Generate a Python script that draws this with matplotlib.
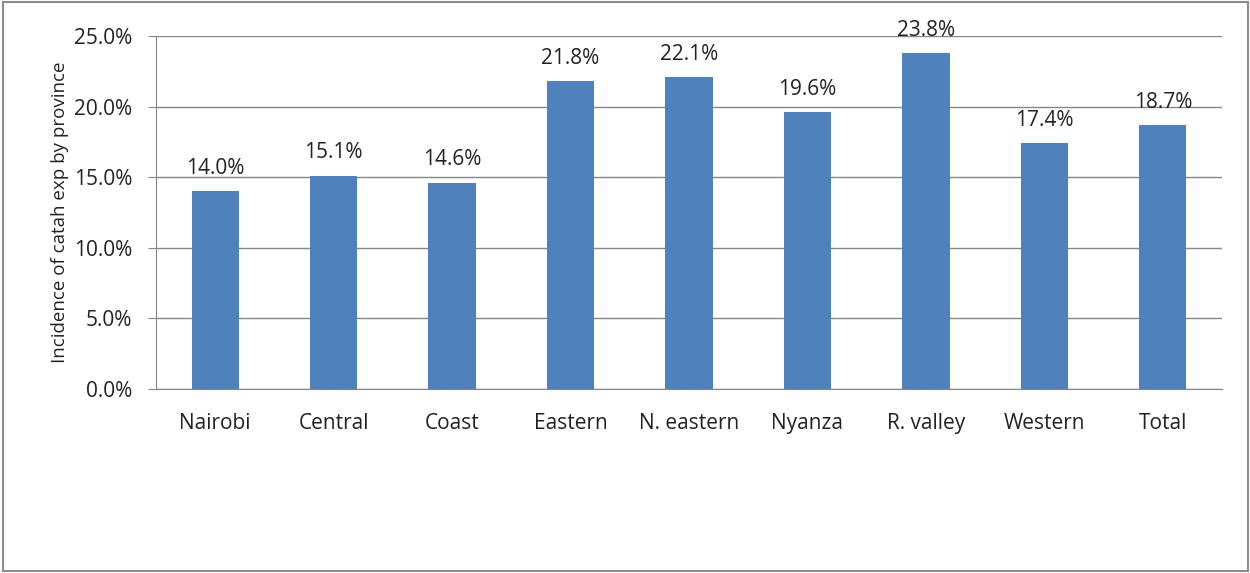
import matplotlib.pyplot as plt
from matplotlib.patches import Rectangle
from matplotlib.ticker import FuncFormatter

provinces = ['Nairobi', 'Central', 'Coast', 'Eastern', 'N. eastern', 'Nyanza', 'R. valley', 'Western', 'Total']
incidence = [14.0, 15.1, 14.6, 21.8, 22.1, 19.6, 23.8, 17.4, 18.7]

plt.rcParams['font.family'] = ['Open Sans', 'DejaVu Sans']

fig = plt.figure(figsize=(12.5, 5.73), dpi=100)
# outer frame of the chart
fig.patches.append(Rectangle((0.002, 0.003), 0.996, 0.994, transform=fig.transFigure,
                             fill=False, edgecolor='#8c8c8c', linewidth=1.5))
ax = fig.add_axes([0.1248, 0.321, 0.8528, 0.616])

x = range(len(provinces))
bars = ax.bar(x, incidence, width=0.4, color='#4f81bd', zorder=3)
for b, v in zip(bars, incidence):
    ax.annotate('%.1f%%' % v, (b.get_x() + b.get_width() / 2, v), xytext=(0, 9),
                textcoords='offset points', ha='center', va='bottom', fontsize=15, color='#222222')

ax.set_xlim(-0.5, len(provinces) - 0.5)
ax.set_ylim(0, 25)
ax.set_yticks([0, 5, 10, 15, 20, 25])
ax.yaxis.set_major_formatter(FuncFormatter(lambda v, p: '%.1f%%' % v))
ax.set_xticks(list(x))
ax.set_xticklabels(provinces)
ax.tick_params(axis='x', length=0, pad=17, labelsize=15, labelcolor='#222222')
ax.tick_params(axis='y', length=6, color='#868686', pad=11, labelsize=15, labelcolor='#222222')
ax.grid(axis='y', color='#868686', linewidth=1, zorder=0)
for s in ['top', 'right']:
    ax.spines[s].set_visible(False)
ax.spines['left'].set_color('#868686')
ax.spines['bottom'].set_color('#868686')
ax.set_ylabel('Incidence of catah exp by province', fontsize=13.5, color='#222222')
ax.yaxis.set_label_coords(-0.082, 0.5)

fig.savefig('out.png', dpi=100)
